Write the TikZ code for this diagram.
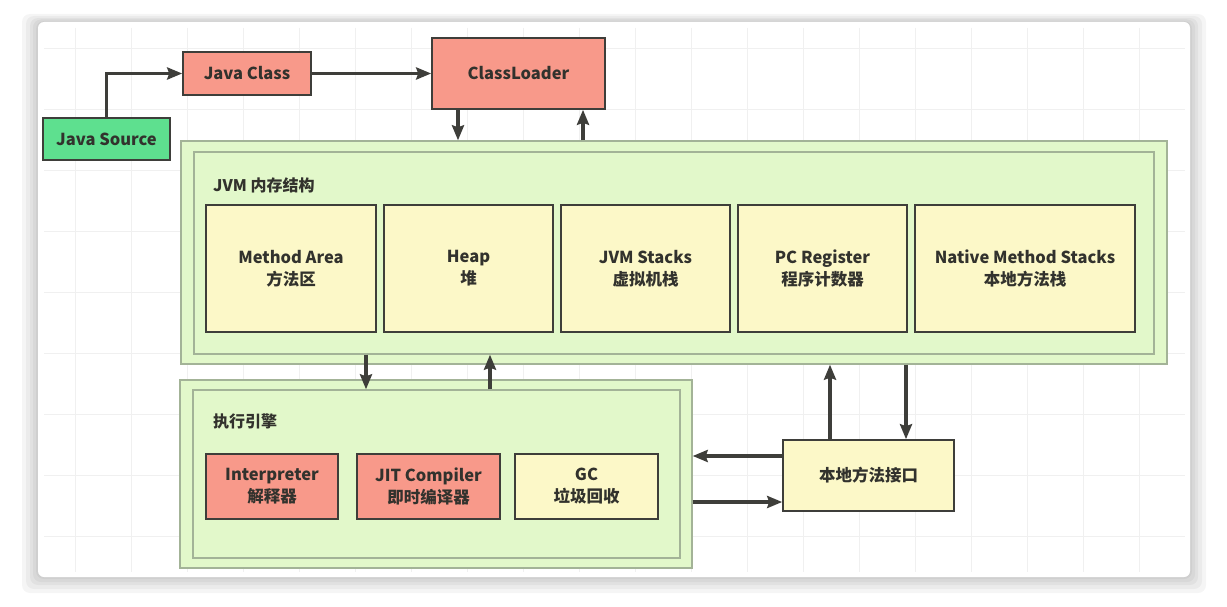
\documentclass[tikz,border=0pt]{standalone}
\usepackage{fontspec}
\setmainfont{Noto Sans CJK SC}
\usetikzlibrary{arrows.meta,positioning}
\definecolor{boxred}{RGB}{248,153,138}
\definecolor{boxyellow}{RGB}{252,248,200}
\definecolor{boxgreen}{RGB}{94,224,143}
\definecolor{regiongreen}{RGB}{226,248,202}
\definecolor{regionline}{RGB}{140,160,125}
\definecolor{edgedark}{RGB}{62,62,58}
\definecolor{textdark}{RGB}{50,50,45}
\definecolor{gridgray}{RGB}{240,240,240}

\begin{document}
\begin{tikzpicture}[
  x=1pt, y=-1pt,
  node distance = 6.4pt and 6.4pt,
  box/.style = {
    rectangle, draw=edgedark, line width=1.6pt, inner sep=0pt,
    align=center, text=textdark,
    font=\bfseries\fontsize{16.5}{22}\selectfont
  },
  redbox/.style    = {box, fill=boxred},
  yellowbox/.style = {box, fill=boxyellow},
  srcbox/.style    = {box, fill=boxgreen},
  region/.style    = {
    rectangle, draw=regionline!80, line width=1.4pt,
    fill=regiongreen, inner sep=0pt
  },
  tag/.style = {anchor=west, text=textdark, inner sep=0pt,
    font=\bfseries\fontsize{16}{18}\selectfont},
  arr/.style = {-{Stealth[length=15pt,width=12pt,inset=2pt]},
    line width=3.5pt, edgedark}
]
  % page and card
  \useasboundingbox (0,0) rectangle (1227,607);
  \fill[white] (0,0) rectangle (1227,607);
  \foreach \s in {16,12,8,5,2}
    \fill[black, opacity=0.04, rounded corners=8pt]
      (38-\s,22-\s/2) rectangle (1190+\s,577+\s);
  \fill[white, rounded corners=6pt] (38,22) rectangle (1190,577);
  \foreach \gx in {75,131,...,1180}
    \draw[gridgray, line width=0.8pt] (\gx,28) -- (\gx,572);
  \foreach \gy in {48,109,...,570}
    \draw[gridgray, line width=0.8pt] (44,\gy) -- (1185,\gy);

  % source and loader
  \node[srcbox, minimum width=127pt, minimum height=42pt] (src) at (106.5,139) {Java Source};
  \node[redbox, minimum width=128pt, minimum height=43pt] (jcls) at (247,73.5) {Java Class};
  \node[redbox, minimum width=173pt, minimum height=71pt] (cl) at (518.5,73.5) {ClassLoader};

  % JVM memory
  \node[region, minimum width=986pt, minimum height=223pt] (jvm) at (674,252.5) {};
  \node[region, minimum width=960pt, minimum height=202pt] (jvmin) at (674,253) {};
  \node[tag] (jvmtag) at (213,185) {JVM 内存结构};
  \node[yellowbox, minimum width=170pt, minimum height=127pt] (ma) at (291,268.5) {Method Area\\方法区};
  \node[yellowbox, minimum width=169pt, minimum height=127pt, right=of ma] (heap) {Heap\\堆};
  \node[yellowbox, minimum width=169pt, minimum height=127pt, right=of heap] (stk) {JVM Stacks\\虚拟机栈};
  \node[yellowbox, minimum width=169pt, minimum height=127pt, right=of stk] (pc) {PC Register\\程序计数器};
  \node[yellowbox, minimum width=220pt, minimum height=127pt, right=of pc] (nms) {Native Method Stacks\\本地方法栈};

  % execution engine
  \node[region, minimum width=512pt, minimum height=188pt] (exec) at (436,474) {};
  \node[region, minimum width=487pt, minimum height=168pt] (execin) at (436.5,474) {};
  \node[tag] (exectag) at (213,421) {执行引擎};
  \node[redbox, minimum width=132pt, minimum height=65pt] (interp) at (272,486.5) {Interpreter\\解释器};
  \node[redbox, minimum width=143pt, minimum height=65pt] (jit) at (428.5,486.5) {JIT Compiler\\即时编译器};
  \node[yellowbox, minimum width=143pt, minimum height=65pt] (gc) at (586.5,486.5) {GC\\垃圾回收};

  % native interface
  \node[yellowbox, minimum width=171pt, minimum height=71pt] (jni) at (868.5,475.5) {本地方法接口};

  % connectors
  \coordinate (cldown) at ([xshift=-60.5pt]cl.south);
  \coordinate (clup)   at ([xshift=64.5pt]cl.south);
  \coordinate (exdown) at (366,354);
  \coordinate (exup)   at (490,354);
  \coordinate (jniup)  at ([xshift=-38.5pt]jni.north);
  \coordinate (jnidn)  at ([xshift=37.5pt]jni.north);
  \coordinate (jnil)   at ([yshift=19.5pt]jni.west);
  \coordinate (jnir)   at ([yshift=-26.5pt]jni.west);

  \draw[arr] (src.north) |- (jcls.west);
  \draw[arr] (jcls) -- (cl);
  \draw[arr] (cldown) -- (cldown |- jvm.north);
  \draw[arr] (clup |- jvm.north) -- (clup);
  \draw[arr] (exdown |- jvmin.south) -- (exdown |- execin.north);
  \draw[arr] (exup |- execin.north) -- (exup |- jvmin.south);
  \draw[arr] (jniup) -- (jniup |- jvm.south);
  \draw[arr] (jnidn |- jvm.south) -- (jnidn);
  \draw[arr] (jnil) -- (jnil -| exec.east);
  \draw[arr] (jnir -| exec.east) -- (jnir);
\end{tikzpicture}
\end{document}
